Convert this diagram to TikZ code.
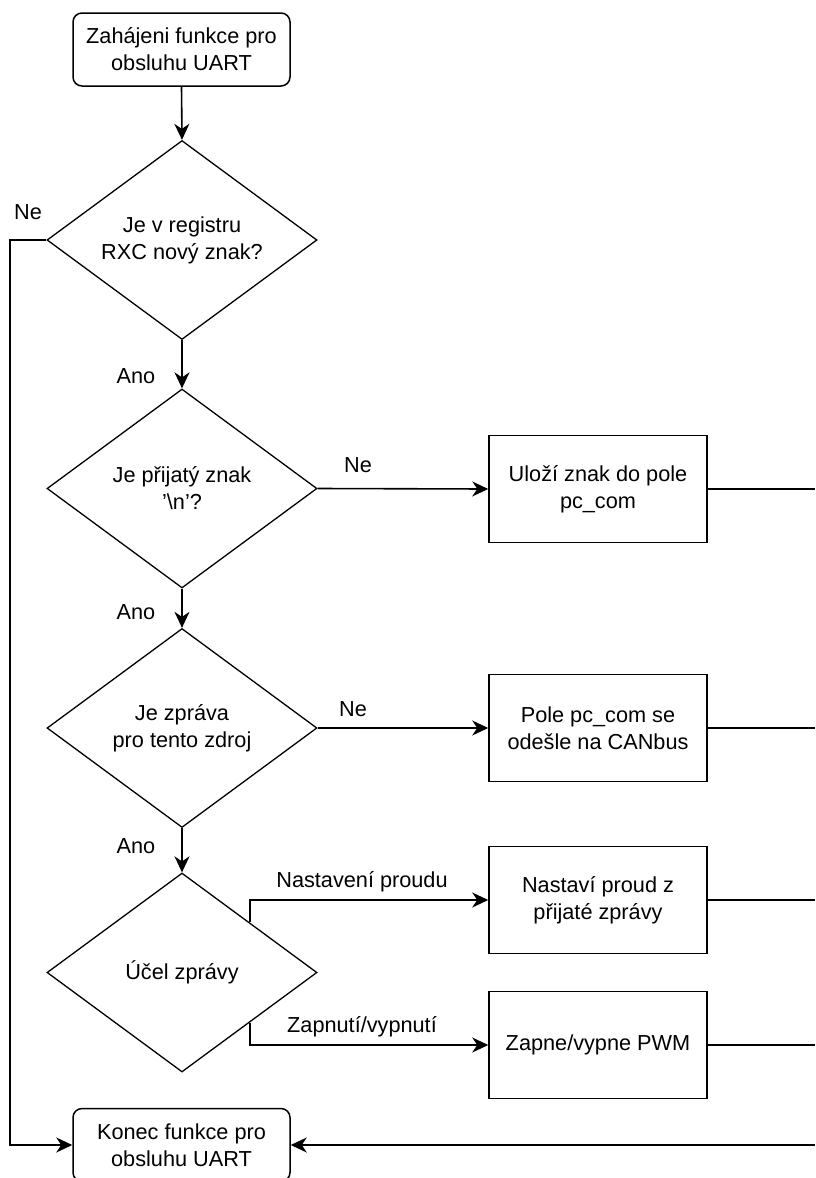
\documentclass[tikz,border=0pt]{standalone}
\usepackage{fontspec}
\setmainfont{Liberation Sans}
\usetikzlibrary{shapes.geometric,arrows.meta}
\tikzset{
  every node/.style={font=\fontsize{21.7}{27}\selectfont, align=center},
  startend/.style={draw, line width=1.5pt, rounded corners=9pt, minimum width=217pt, minimum height=73pt, inner sep=0pt},
  decision/.style={draw, line width=1.3pt, diamond, shape aspect=1.357, minimum width=270pt, minimum height=199pt, inner sep=0pt},
  process/.style={draw, line width=1.5pt, minimum width=218pt, minimum height=107pt, inner sep=0pt},
  conn/.style={line width=1.6pt},
  arr/.style={conn, -{Stealth[length=16pt, width=15pt, inset=5pt]}},
  lbl/.style={inner sep=0pt}
}
\begin{document}
\begin{tikzpicture}[x=1pt, y=-1pt]
\useasboundingbox (0,0) rectangle (815,1178);
\node[startend] (start) at (181.5,49.5) {Zahájeni funkce pro\\obsluhu UART};
\node[decision] (d1) at (182,240) {Je v registru\\RXC nový znak?};
\node[decision] (d2) at (182,488.5) {Je přijatý znak\\{\char"0027}\textbackslash n{\char"0027}?};
\node[decision] (d3) at (182,728) {Je zpráva\\pro tento zdroj};
\node[decision] (d4) at (182,972.5) {Účel zprávy};
\node[process] (b1) at (598,489) {Uloží znak do pole\\pc\_com};
\node[process] (b2) at (598,728) {Pole pc\_com se\\odešle na CANbus};
\node[process] (b3) at (598,900) {Nastaví proud z\\přijaté zprávy};
\node[process] (b4) at (598,1045) {Zapne/vypne PWM};
\node[startend] (endb) at (181.5,1145) {Konec funkce pro\\obsluhu UART};

\coordinate (r1) at (815,489);
\coordinate (r2) at (815,728);
\coordinate (r3) at (815,900);
\coordinate (r4) at (815,1045);
\coordinate (r5) at (815,1145);
\coordinate (lft) at (10,240);

\draw[arr] (start.south) -- (d1.north);
\draw[arr] (d1.south) -- (d2.north);
\draw[arr] (d2.south) -- (d3.north);
\draw[arr] (d3.south) -- (d4.north);
\draw[arr] (d1.west) -- (lft) |- (endb.west);
\draw[arr] (d2.east) -- (b1.west);
\draw[arr] (d3.east) -- (b2.west);
\draw[arr] (d4.north east) |- (b3.west);
\draw[arr] (d4.south east) |- (b4.west);
\draw[conn] (b1.east) -- (r1);
\draw[conn] (b2.east) -- (r2);
\draw[conn] (b3.east) -- (r3);
\draw[conn] (b4.east) -- (r4);
\draw[arr] (r5) -- (endb.east);

\node[lbl] (l1) at (28,212) {Ne};
\node[lbl] (l2) at (136,376) {Ano};
\node[lbl] (l3) at (358,465) {Ne};
\node[lbl] (l4) at (136,612) {Ano};
\node[lbl] (l5) at (353,709) {Ne};
\node[lbl] (l6) at (136,846) {Ano};
\node[lbl] (l7) at (362,882) {Nastavení proudu};
\node[lbl] (l8) at (362,1027) {Zapnutí/vypnutí};
\end{tikzpicture}
\end{document}
